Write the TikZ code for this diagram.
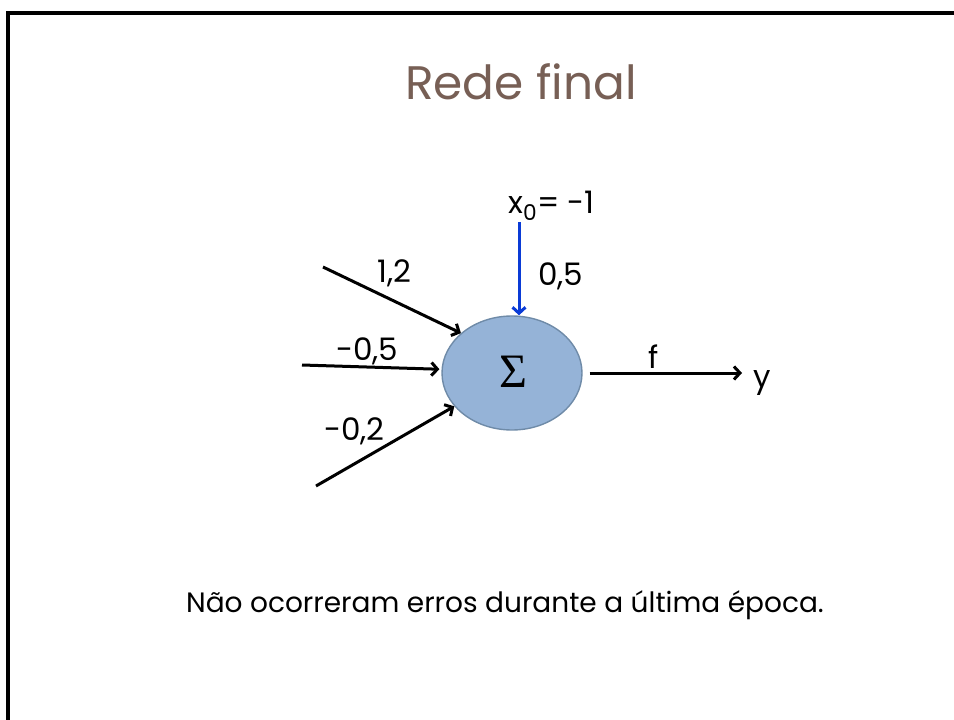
\documentclass[tikz,border=0pt]{standalone}
\usepackage{fontspec}
\setmainfont{Poppins}
\newfontfamily\sigmafont{Liberation Serif}
\usepackage{tikz}
\usetikzlibrary{shapes.geometric, arrows.meta, calc}
\definecolor{titlebrown}{HTML}{775F55}
\definecolor{sumfill}{HTML}{95B3D7}
\definecolor{sumedge}{HTML}{6F8BA8}
\definecolor{biasblue}{HTML}{0A3BD6}

\begin{document}
\begin{tikzpicture}[x=1pt, y=-1pt,
  weight/.style={font=\fontsize{31}{31}\selectfont, anchor=base west, inner sep=0pt},
  link/.style={line width=3pt, -{Straight Barb[length=6pt, width=13pt]}},
]
  \useasboundingbox (0,0) rectangle (954,720);
  \draw[line width=3.5pt] (8,720) -- (8,13) -- (954,13);

  \node[font=\fontsize{47}{47}\selectfont, text=titlebrown, anchor=base] (titulo) at (521,99) {Rede final};

  \node[ellipse, draw=sumedge, line width=1.4pt, fill=sumfill, minimum width=140pt, minimum height=114pt] (soma) at (512,373) {};
  \node[font=\sigmafont\fontsize{48}{48}\selectfont, inner sep=0pt] (sigma) at (513,372) {Σ};

  % entradas
  \coordinate (in1) at (323,267);
  \coordinate (in2) at (302,365);
  \coordinate (in3) at (316,486);
  \coordinate (bias) at (519,222);

  \draw[link] (in1) -- (soma.142);
  \draw[link, shorten >=2pt] (in2) -- (soma.177);
  \draw[link] (in3) -- (soma.210);
  \draw[link, draw=biasblue] (bias) -- (bias |- soma.north);

  \node[weight] (w1) at (377,282) {1,2};
  \node[weight] (w2) at (336,360) {-0,5};
  \node[weight] (w3) at (324,440) {-0,2};
  \node[weight] (w0) at (538,285) {0,5};
  \node[weight] (x0) at (508,213) {x\textsubscript{0}= -1};

  % saida
  \node[weight] (y) at (753,387) {y};
  \draw[link, shorten <=7pt, shorten >=11pt] (soma.east) -- (soma.east -| y.west);
  \node[weight] (f) at (648,368) {f};

  \node[font=\fontsize{28}{28}\selectfont, anchor=base] (nota) at (505,612) {Não ocorreram erros durante a última época.};
\end{tikzpicture}
\end{document}
